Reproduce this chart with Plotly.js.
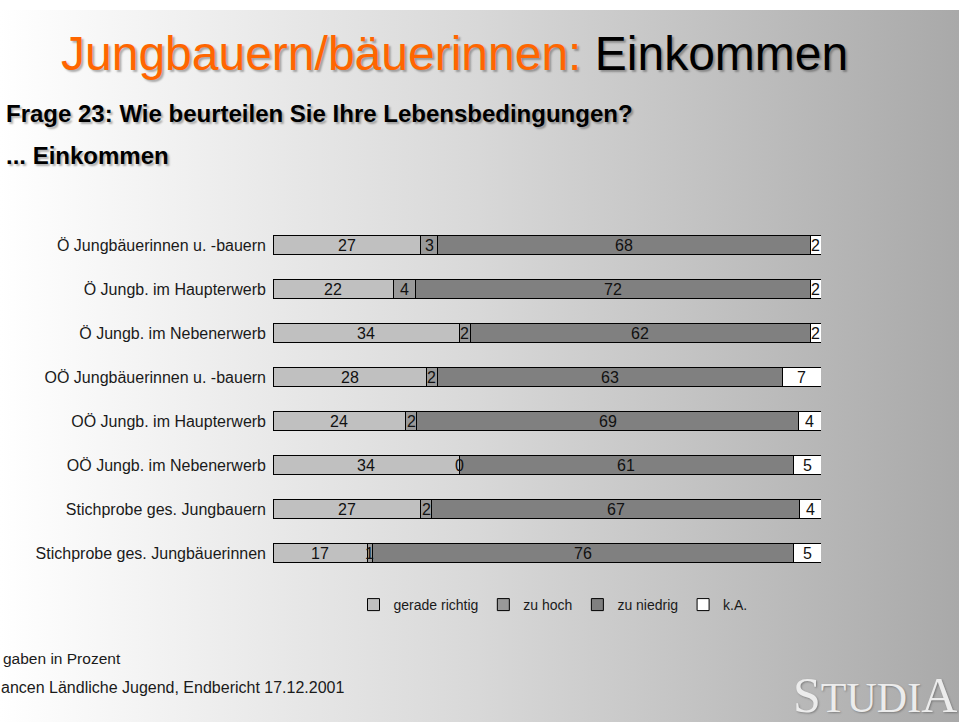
<!DOCTYPE html>
<html><head><meta charset="utf-8">
<script src="https://cdn.plot.ly/plotly-3.0.1.min.js"></script>
<style>
html,body{margin:0;padding:0;width:959px;height:722px;overflow:hidden;background:#fff;}
#bg{position:absolute;left:0;top:10px;width:959px;height:712px;background:linear-gradient(to right,#ffffff 0%,#d8d8d8 50%,#a9a9a9 100%);}
#chart{position:absolute;left:0;top:0;width:959px;height:722px;}
</style></head><body><div id="bg"></div><div id="chart"></div>
<script>
const categories = [
  'Ö Jungbäuerinnen u. -bauern',
  'Ö Jungb. im Haupterwerb',
  'Ö Jungb. im Nebenerwerb',
  'OÖ Jungbäuerinnen u. -bauern',
  'OÖ Jungb. im Haupterwerb',
  'OÖ Jungb. im Nebenerwerb',
  'Stichprobe ges. Jungbauern',
  'Stichprobe ges. Jungbäuerinnen'
];
const geradeRichtig = [27, 22, 34, 28, 24, 34, 27, 17];
const zuHoch       = [3, 4, 2, 2, 2, 0, 2, 1];
const zuNiedrig    = [68, 72, 62, 63, 69, 61, 67, 76];
const keineAngabe  = [2, 2, 2, 7, 4, 5, 4, 5];
const seriesNames  = ['gerade richtig', 'zu hoch', 'zu niedrig', 'k.A.'];
const seriesColors = ['#c0c0c0', '#999999', '#808080', '#ffffff'];

const series = [geradeRichtig, zuHoch, zuNiedrig, keineAngabe];
const FONT = 'Liberation Sans, Arial, sans-serif';

const traces = series.map((vals, i) => ({
  type: 'bar', orientation: 'h', name: seriesNames[i],
  x: vals, y: categories,
  marker: {color: seriesColors[i], line: {color: '#000', width: 1}},
  hoverinfo: 'x+y+name'
}));

// value labels, positioned from the data (normalised like the bars)
const annotations = [];
categories.forEach((cat, r) => {
  const total = series.reduce((s, v) => s + v[r], 0);
  let cum = 0;
  series.forEach(vals => {
    const v = vals[r];
    annotations.push({
      xref: 'x', yref: 'y', x: (cum + v / 2) / total * 100, y: cat,
      text: String(v), showarrow: false,
      font: {family: FONT, size: 16, color: '#111'}
    });
    cum += v;
  });
});

// layout helpers (pixel -> paper)
const L = 273, R = 821, T = 223, B = 575;
const px = x => (x - L) / (R - L);
const py = y => (B - y) / (B - T);

const shadow = '2px 2px 2px rgba(0,0,0,0.3)';
annotations.push(
  {xref:'paper', yref:'paper', x: px(59), y: py(54), xanchor:'left', yanchor:'middle', showarrow:false,
   text:'<span style="color:#ff6600">Jungbauern/bäuerinnen:</span> Einkommen',
   font:{family:FONT, size:48, color:'#000', shadow: shadow}},
  {xref:'paper', yref:'paper', x: px(4), y: py(113), xanchor:'left', yanchor:'middle', showarrow:false,
   text:'Frage 23: Wie beurteilen Sie Ihre Lebensbedingungen?',
   font:{family:FONT, size:24, weight:'bold', color:'#000', shadow: shadow}},
  {xref:'paper', yref:'paper', x: px(4), y: py(156), xanchor:'left', yanchor:'middle', showarrow:false,
   text:'... Einkommen',
   font:{family:FONT, size:24, weight:'bold', color:'#000', shadow: shadow}},
  {xref:'paper', yref:'paper', x: px(1), y: py(658), xanchor:'left', yanchor:'middle', showarrow:false,
   text:'gaben in Prozent',
   font:{family:FONT, size:15.5, color:'#1a1a1a'}},
  {xref:'paper', yref:'paper', x: px(-1), y: py(687), xanchor:'left', yanchor:'middle', showarrow:false,
   text:'ancen Ländliche Jugend, Endbericht 17.12.2001',
   font:{family:FONT, size:16, color:'#1a1a1a'}},
  {xref:'paper', yref:'paper', x: px(959), y: py(695), xanchor:'right', yanchor:'middle', showarrow:false,
   text:'S<span style="font-size:42px">TUDI</span>A',
   font:{family:'Liberation Serif, Times New Roman, serif', size:50, color:'#ececec', shadow:'1px 1px 2px rgba(0,0,0,0.3)'}}
);

const layout = {
  width: 959, height: 722,
  margin: {l: L, r: 959 - R, t: T, b: 722 - B, pad: 0},
  paper_bgcolor: 'rgba(0,0,0,0)', plot_bgcolor: 'rgba(0,0,0,0)',
  barmode: 'stack', barnorm: 'percent', bargap: 0.59,
  font: {family: FONT, size: 16, color: '#1a1a1a'},
  xaxis: {range: [0, 100], visible: false, fixedrange: true},
  yaxis: {autorange: 'reversed', showgrid: false, zeroline: false, showline: false,
          ticks: '', ticklabelstandoff: 6, tickfont: {family: FONT, size: 16, color: '#1a1a1a'}},
  showlegend: true,
  legend: {orientation: 'h', x: px(553), xanchor: 'center', y: py(605), yanchor: 'middle',
           font: {family: FONT, size: 14, color: '#1a1a1a'}, bgcolor: 'rgba(0,0,0,0)',
           traceorder: 'normal', itemclick: false},
  annotations: annotations
};

Plotly.newPlot('chart', traces, layout, {displayModeBar: false, staticPlot: true});
</script></body></html>
